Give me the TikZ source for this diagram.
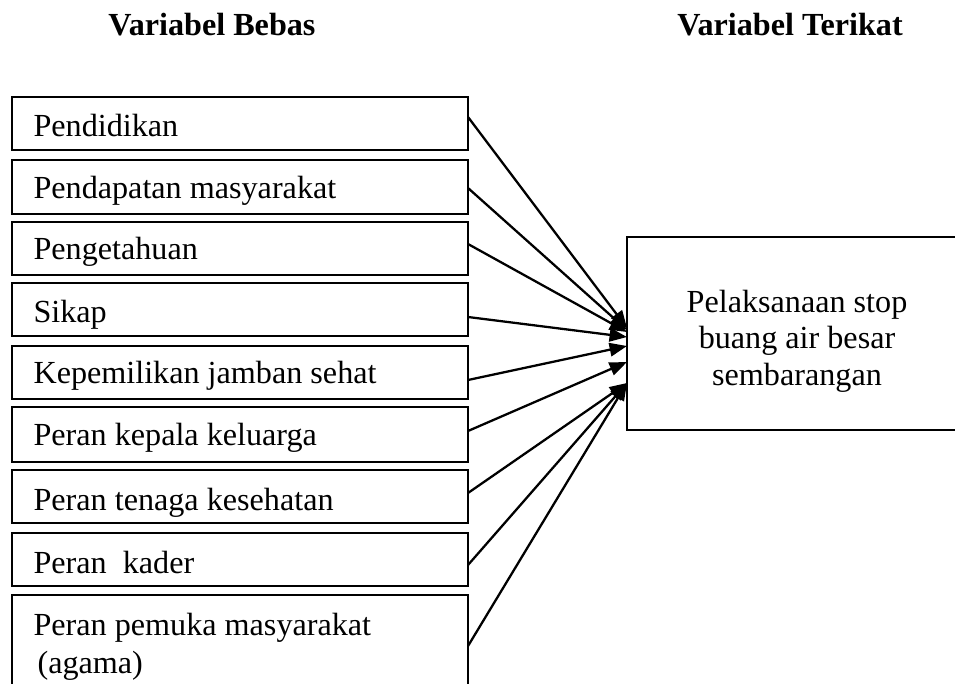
\documentclass[tikz,border=0pt]{standalone}
\usepackage{fontspec}
\setmainfont{Liberation Serif}
\usetikzlibrary{calc,arrows.meta}
\begin{document}
\begin{tikzpicture}[x=0.3731pt,y=-0.3731pt,
  vbox/.style={draw,line width=0.8pt,minimum width=456*0.3731pt,inner sep=0pt,outer sep=0pt},
  rbox/.style={draw,line width=0.8pt,minimum width=340*0.3731pt,minimum height=193*0.3731pt,inner sep=0pt,outer sep=0pt},
  vtxt/.style={anchor=base west,inner sep=0pt,font=\fontsize{12}{13.8}\selectfont},
  head/.style={anchor=base,inner sep=0pt,font=\fontsize{12}{13.8}\selectfont\bfseries},
  conn/.style={line width=0.85pt,-{Triangle[length=6.5pt,width=5pt]}}]
\useasboundingbox (0,0) rectangle (955,684);
\clip (0,0) rectangle (955,684);
\fill[white] (0,0) rectangle (955,684);

\node[head] (h1) at (212,36) {Variabel Bebas};
\node[head] (h2) at (790,36) {Variabel Terikat};

\node[vbox,minimum height=53*0.3731pt] (v1) at (240,123.5) {};
\node[vbox,minimum height=54*0.3731pt] (v2) at (240,187) {};
\node[vbox,minimum height=53*0.3731pt] (v3) at (240,248.5) {};
\node[vbox,minimum height=53*0.3731pt] (v4) at (240,309.5) {};
\node[vbox,minimum height=53*0.3731pt] (v5) at (240,372.5) {};
\node[vbox,minimum height=55*0.3731pt] (v6) at (240,434.5) {};
\node[vbox,minimum height=53*0.3731pt] (v7) at (240,496.5) {};
\node[vbox,minimum height=53*0.3731pt] (v8) at (240,559.5) {};
\node[vbox,minimum height=105*0.3731pt] (v9) at (240,647.5) {};

\node[vtxt] (t1) at (33,137) {Pendidikan};
\node[vtxt] (t2) at (33,199) {Pendapatan masyarakat};
\node[vtxt] (t3) at (33,260) {Pengetahuan};
\node[vtxt] (t4) at (33,322) {Sikap};
\node[vtxt] (t5) at (33,383) {Kepemilikan jamban sehat};
\node[vtxt] (t6) at (33,445) {Peran kepala keluarga};
\node[vtxt] (t7) at (33,510) {Peran tenaga kesehatan};
\node[vtxt] (t8) at (33,573) {Peran\ \ kader};
\node[vtxt] (t9) at (33,635) {Peran pemuka masyarakat};
\node[vtxt] (t9b) at (33,673) {\hspace{1.5pt}(agama)};

\node[rbox] (R) at (797,333.5) {};
\node[anchor=base,align=center,inner sep=0pt,font=\fontsize{12}{13.6}\selectfont] (rt) at (797,385) {Pelaksanaan stop\\buang air besar\\sembarangan};

\draw[conn] ($(v1.east)+(0,-6.5)$) -- ($(R.west)+(0,-5.5)$);
\draw[conn] ($(v2.east)+(0,1)$) -- ($(R.west)+(0,-3.5)$);
\draw[conn] ($(v3.east)+(0,-4.5)$) -- ($(R.west)+(0,-1.5)$);
\draw[conn] ($(v4.east)+(0,7.5)$) -- ($(R.west)+(0,3.5)$);
\draw[conn] ($(v5.east)+(0,7.5)$) -- ($(R.west)+(0,12.5)$);
\draw[conn] ($(v6.east)+(0,-3.5)$) -- ($(R.west)+(0,28.5)$);
\draw[conn] ($(v7.east)+(0,-3.5)$) -- ($(R.west)+(0,49.5)$);
\draw[conn] ($(v8.east)+(0,5.5)$) -- ($(R.west)+(0,49.5)$);
\draw[conn] ($(v9.east)+(0,-1.5)$) -- ($(R.west)+(0,49.5)$);
\end{tikzpicture}
\end{document}
